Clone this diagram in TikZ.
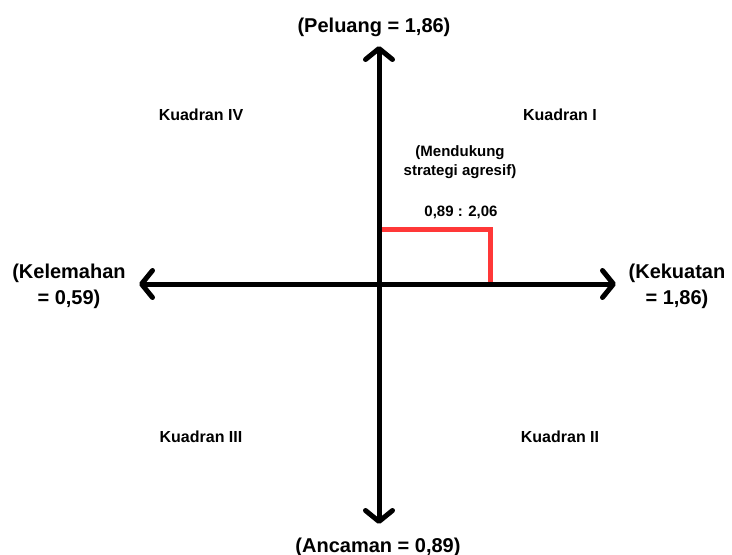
\documentclass[tikz,border=0pt]{standalone}
\usepackage{fontspec}
\setmainfont{Liberation Sans}
\usetikzlibrary{arrows.meta}
\definecolor{redline}{HTML}{FF3838}
\begin{document}
\begin{tikzpicture}[x=1pt,y=-1pt,
  axis/.style={line width=5pt,-{Straight Barb[length=11pt,width=27pt,round]}},
  big/.style={font=\bfseries\fontsize{20}{26}\selectfont,align=center,inner sep=0pt},
  quad/.style={font=\bfseries\fontsize{16}{19}\selectfont,inner sep=0pt,anchor=base},
  small/.style={font=\bfseries\fontsize{15}{19}\selectfont,align=center,inner sep=0pt}]
\useasboundingbox[fill=white] (0,0) rectangle (732,555);
\coordinate (O) at (379,284);
\coordinate (top) at (379,46);
\coordinate (bot) at (379,524);
\coordinate (left) at (139,284);
\coordinate (right) at (616,284);
\coordinate (r1) at (381,229);
\coordinate (r2) at (490,229);
\coordinate (r3) at (490,284);
\draw[line width=5pt,redline] (r1) -- (r2) -- (r3);
\draw[axis] (O) -- (top);
\draw[axis] (O) -- (bot);
\draw[axis] (O) -- (left);
\draw[axis] (O) -- (right);
\node[big,anchor=base] (peluang) at (374,32) {(Peluang = 1,86)};
\node[big,anchor=base] (ancaman) at (378,552) {(Ancaman = 0,89)};
\node[big] (kelemahan) at (69,286) {(Kelemahan\\= 0,59)};
\node[big] (kekuatan) at (677,286) {(Kekuatan\\= 1,86)};
\node[quad] (q4) at (201,120) {Kuadran IV};
\node[quad] (q1) at (560,120) {Kuadran I};
\node[quad] (q3) at (201,442) {Kuadran III};
\node[quad] (q2) at (560,442) {Kuadran II};
\node[small] (mendukung) at (460,162) {(Mendukung\\strategi agresif)};
\node[small,anchor=base] (nilai) at (461,216) {0,89 : 2,06};
\end{tikzpicture}
\end{document}
